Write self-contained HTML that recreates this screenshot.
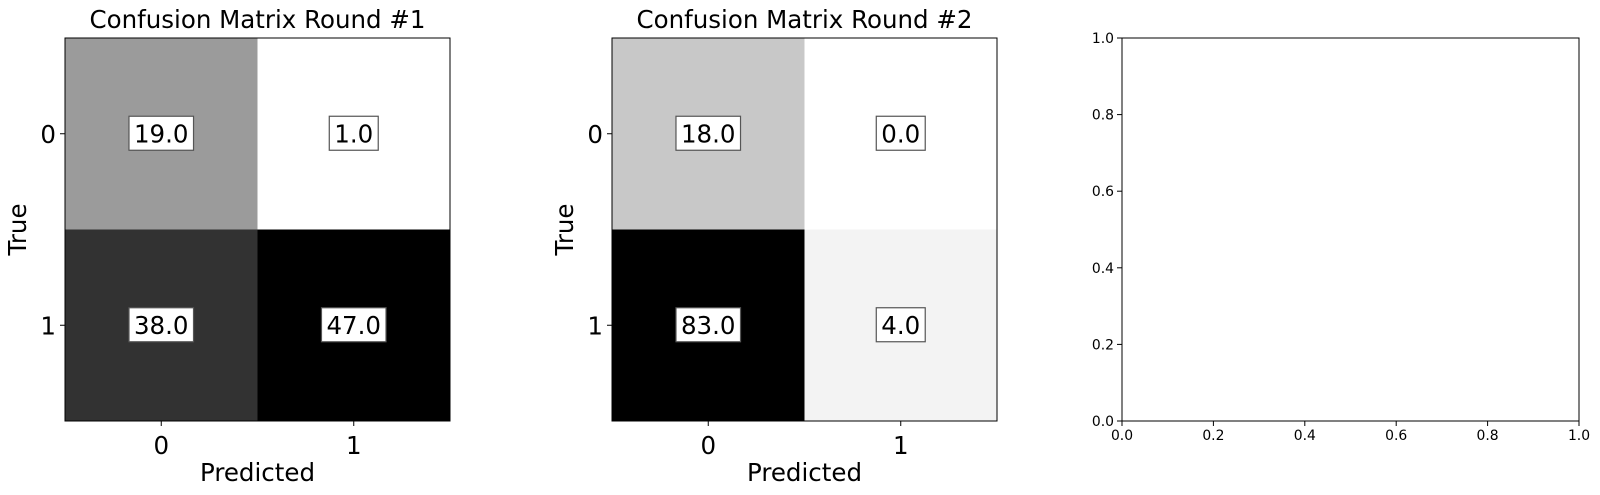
<!DOCTYPE html>
<html><head><meta charset="utf-8"><style>
html,body{margin:0;padding:0;background:#fff;}
svg{display:block;font-family:"DejaVu Sans","Liberation Sans",sans-serif;}
</style></head><body>
<svg id="fig" width="1600" height="495" viewBox="0 0 1600 495" xmlns="http://www.w3.org/2000/svg"></svg>
<script>
const classLabels = ["0","1"];
const round1Values = [[19,1],[38,47]];
const round2Values = [[18,0],[83,4]];
const panelTitles = ["Confusion Matrix Round #1","Confusion Matrix Round #2"];
const emptyTicks = [0,0.2,0.4,0.6,0.8,1.0];

const NS="http://www.w3.org/2000/svg";
const svg=document.getElementById('fig');
function mk(tag,attrs,parent,text){const e=document.createElementNS(NS,tag);for(const k in attrs)e.setAttribute(k,attrs[k]);if(text!==undefined)e.textContent=text;(parent||svg).appendChild(e);return e;}

const axTop=38,axBottom=421;
const FS=24.5;
function drawMatrix(left,right,values,title,key){
  const g=mk('g',{});
  
  
  const n=values.length;
  const cw=(right-left)/n,ch=(axBottom-axTop)/n;
  let mn=Infinity,mx=-Infinity;
  values.forEach(r=>r.forEach(v=>{mn=Math.min(mn,v);mx=Math.max(mx,v);}));
  const xs=c=>left+cw*(c+0.5), ys=r=>axTop+ch*(r+0.5);
  values.forEach((row,r)=>row.forEach((v,c)=>{
    const t=(v-mn)/(mx-mn||1);const gv=Math.round(255*(1-t));
    const rc=mk('rect',{x:left+cw*c,y:axTop+ch*r,width:cw+0.5,height:ch+0.5,fill:`rgb(${gv},${gv},${gv})`},g);
    
    
  }));
  values.forEach((row,r)=>row.forEach((v,c)=>{
    const txt=v.toFixed(1);
    const tw=((txt.length-1)*0.636+0.318)*FS;
    const w=tw+10;
    const b=mk('rect',{x:xs(c)-w/2,y:ys(r)-17.5,width:w,height:34,fill:'#fff',stroke:'#555','stroke-width':1.2},g);
    
    
    const t=mk('text',{x:xs(c),y:ys(r)+8.5,'font-size':FS,'text-anchor':'middle',fill:'#000'},g,txt);
    
    
  }));
  mk('rect',{x:left,y:axTop,width:right-left,height:axBottom-axTop,fill:'none',stroke:'#000','stroke-width':1},g);
  classLabels.forEach((lab,i)=>{
    mk('line',{x1:xs(i),x2:xs(i),y1:axBottom,y2:axBottom+5,stroke:'#000'},g);
    const tx=mk('text',{x:xs(i),y:axBottom+33,'font-size':FS,'text-anchor':'middle'},g,lab);
    
    
    mk('line',{x1:left-5,x2:left,y1:ys(i),y2:ys(i),stroke:'#000'},g);
    const ty=mk('text',{x:left-9,y:ys(i)+9,'font-size':FS,'text-anchor':'end'},g,lab);
    
    
  });
  const ti=mk('text',{x:(left+right)/2,y:28,'font-size':FS,'text-anchor':'middle'},g,title);
  
  
  const xl=mk('text',{x:(left+right)/2,y:481,'font-size':FS,'text-anchor':'middle'},g,'Predicted');
  
  
  const yx=left-39,yy=(axTop+axBottom)/2;
  const yl=mk('text',{x:yx,y:yy,'font-size':FS,'text-anchor':'middle',transform:`rotate(-90 ${yx} ${yy})`},g,'True');
  
  
}
drawMatrix(65,450,round1Values,panelTitles[0],'round-1');
drawMatrix(612,997,round2Values,panelTitles[1],'round-2');

(function(){
  const left=1122,right=1579;
  const g=mk('g',{});
  
  
  const sx=v=>left+v*(right-left), sy=v=>axBottom-v*(axBottom-axTop);
  mk('rect',{x:left,y:axTop,width:right-left,height:axBottom-axTop,fill:'none',stroke:'#000'},g);
  emptyTicks.forEach(v=>{
    mk('line',{x1:sx(v),x2:sx(v),y1:axBottom,y2:axBottom+5,stroke:'#000'},g);
    const tx=mk('text',{x:sx(v),y:axBottom+19,'font-size':13.9,'text-anchor':'middle'},g,v.toFixed(1));
    
    
    mk('line',{x1:left-5,x2:left,y1:sy(v),y2:sy(v),stroke:'#000'},g);
    const ty=mk('text',{x:left-8,y:sy(v)+5,'font-size':13.9,'text-anchor':'end'},g,v.toFixed(1));
    
    
  });
})();
</script>
</body></html>
